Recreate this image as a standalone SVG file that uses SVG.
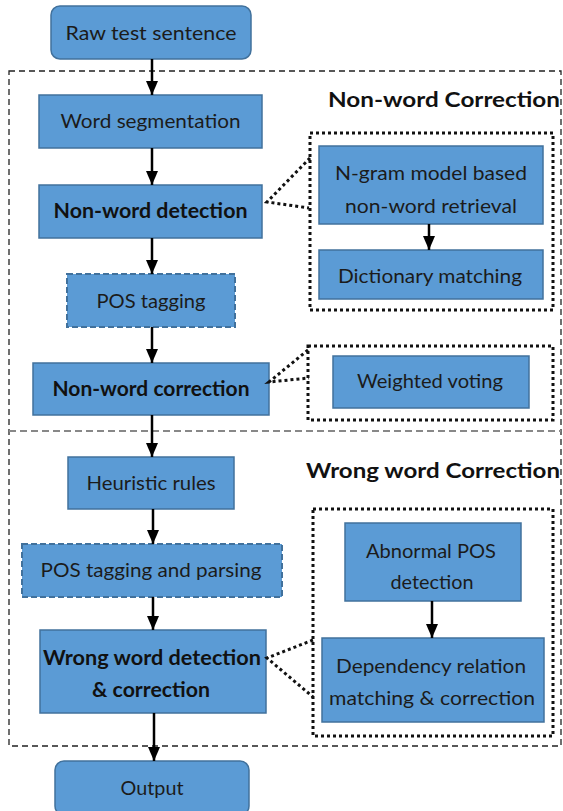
<svg xmlns="http://www.w3.org/2000/svg" width="563" height="811" viewBox="0 0 563 811">
<defs>
<style>
.box{fill:#5B9BD5;stroke:#41719C;stroke-width:1.5}
.dbox{fill:#5B9BD5;stroke:#41719C;stroke-width:2;stroke-dasharray:6 3}
.t{font-family:Lato,"Liberation Sans",sans-serif;font-size:20px;fill:#1b1b1b;text-anchor:middle}
.b{font-weight:bold;fill:#111}
.title{font-family:Lato,"Liberation Sans",sans-serif;font-size:20px;font-weight:bold;fill:#111}
.grp{fill:none;stroke:#111;stroke-width:3;stroke-dasharray:3 3}
.arr{stroke:#000;stroke-width:2.5;fill:none;marker-end:url(#ah)}
.dot{stroke:#111;stroke-width:3;stroke-dasharray:3 3;fill:none}
</style>
<marker id="ah" markerUnits="userSpaceOnUse" markerWidth="14" markerHeight="12" refX="14" refY="6" orient="auto" viewBox="0 0 14 12">
<path d="M0,0 L14,6 L0,12 Z" fill="#000"/>
</marker>
</defs>
<g id="frame">
<rect x="9" y="71" width="552" height="675" fill="none" stroke="#222" stroke-width="1.3" stroke-dasharray="6 4"/>
<line x1="9" y1="431" x2="561" y2="431" stroke="#888" stroke-width="2" stroke-dasharray="7 4"/>
<text class="title" x="328" y="107" textLength="232" lengthAdjust="spacingAndGlyphs">Non-word Correction</text>
<text class="title" x="306" y="478" textLength="254" lengthAdjust="spacingAndGlyphs">Wrong word Correction</text>
<rect class="grp" x="310" y="133" width="243" height="177"/>
<rect class="grp" x="308" y="346" width="245" height="74"/>
<rect class="grp" x="313" y="509" width="240" height="227"/>
</g>
<g id="n-raw">
<rect class="box" x="51" y="6" width="200" height="53" rx="9"/>
<text class="t" x="151" y="40" textLength="171" lengthAdjust="spacingAndGlyphs">Raw test sentence</text>
</g>
<g id="n-wordseg">
<rect class="box" x="39" y="95" width="223" height="53"/>
<text class="t" x="150.5" y="128" textLength="180" lengthAdjust="spacingAndGlyphs">Word segmentation</text>
</g>
<g id="n-nwdet">
<rect class="box" x="39" y="185" width="223" height="53"/>
<text class="t b" x="150.5" y="218" textLength="194" lengthAdjust="spacingAndGlyphs">Non-word detection</text>
</g>
<g id="n-pos">
<rect class="dbox" x="67" y="274" width="168" height="53"/>
<text class="t" x="151" y="308" textLength="109" lengthAdjust="spacingAndGlyphs">POS tagging</text>
</g>
<g id="n-nwcorr">
<rect class="box" x="33" y="363" width="236" height="52"/>
<text class="t b" x="151" y="396" textLength="197" lengthAdjust="spacingAndGlyphs">Non-word correction</text>
</g>
<g id="n-heur">
<rect class="box" x="68" y="457" width="166" height="52"/>
<text class="t" x="151" y="490" textLength="129" lengthAdjust="spacingAndGlyphs">Heuristic rules</text>
</g>
<g id="n-posparse">
<rect class="dbox" x="22" y="544" width="260" height="53"/>
<text class="t" x="151" y="577" textLength="221" lengthAdjust="spacingAndGlyphs">POS tagging and parsing</text>
</g>
<g id="n-wwdet">
<rect class="box" x="40" y="630" width="226" height="83"/>
<text class="t b" x="152" y="665" textLength="218" lengthAdjust="spacingAndGlyphs">Wrong word detection</text>
<text class="t b" x="151" y="697" textLength="118" lengthAdjust="spacingAndGlyphs">&amp; correction</text>
</g>
<g id="n-output">
<rect class="box" x="55" y="761" width="194" height="54" rx="9"/>
<text class="t" x="152" y="795" textLength="63" lengthAdjust="spacingAndGlyphs">Output</text>
</g>
<g id="n-ngram">
<rect class="box" x="319" y="146" width="224" height="78"/>
<text class="t" x="431" y="180" textLength="192" lengthAdjust="spacingAndGlyphs">N-gram model based</text>
<text class="t" x="431" y="213" textLength="172" lengthAdjust="spacingAndGlyphs">non-word retrieval</text>
</g>
<g id="n-dict">
<rect class="box" x="319" y="250" width="224" height="49"/>
<text class="t" x="430" y="283" textLength="184" lengthAdjust="spacingAndGlyphs">Dictionary matching</text>
</g>
<g id="n-vote">
<rect class="box" x="333" y="356" width="196" height="52"/>
<text class="t" x="430" y="388" textLength="146" lengthAdjust="spacingAndGlyphs">Weighted voting</text>
</g>
<g id="n-abpos">
<rect class="box" x="345" y="523" width="176" height="78"/>
<text class="t" x="431" y="558" textLength="130" lengthAdjust="spacingAndGlyphs">Abnormal POS</text>
<text class="t" x="432" y="589" textLength="83" lengthAdjust="spacingAndGlyphs">detection</text>
</g>
<g id="n-dep">
<rect class="box" x="322" y="638" width="222" height="84"/>
<text class="t" x="431" y="673" textLength="190" lengthAdjust="spacingAndGlyphs">Dependency relation</text>
<text class="t" x="432" y="705" textLength="206" lengthAdjust="spacingAndGlyphs">matching &amp; correction</text>
</g>
<g id="connectors">
<line class="arr" x1="152" y1="59" x2="152" y2="95"/>
<line class="arr" x1="152" y1="148" x2="152" y2="185"/>
<line class="arr" x1="152" y1="238" x2="152" y2="274"/>
<line class="arr" x1="152" y1="327" x2="152" y2="363"/>
<line class="arr" x1="152" y1="415" x2="152" y2="457"/>
<line class="arr" x1="153" y1="509" x2="153" y2="544"/>
<line class="arr" x1="153" y1="597" x2="153" y2="630"/>
<line class="arr" x1="154" y1="713" x2="154" y2="761"/>
<line class="arr" x1="429" y1="224" x2="429" y2="250"/>
<line class="arr" x1="432" y1="601" x2="432" y2="638"/>
<polyline class="dot" points="310,158 267,202 309,208"/>
<polyline class="dot" points="308,350 269,382 309,378"/>
<polyline class="dot" points="313,640 267,658 313,697"/>
</g>
</svg>
